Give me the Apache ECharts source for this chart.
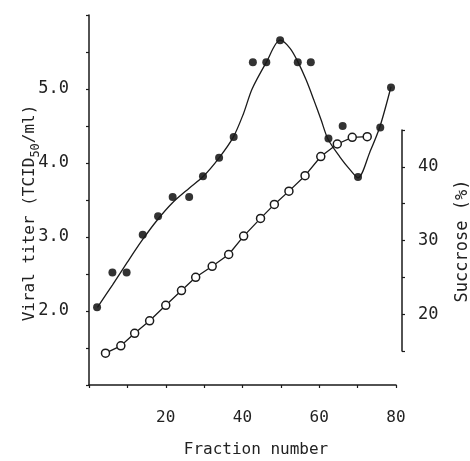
<!DOCTYPE html>
<html lang="en">
<head>
    <meta charset="UTF-8">
    <title>Viral titer and sucrose</title>
    <script src="https://cdn.jsdelivr.net/npm/echarts@6/dist/echarts.min.js"></script>
    <style>
        html, body { margin: 0; padding: 0; background: #fff; }
        #pic { width: 470px; height: 461px; }
    </style>
</head>
<body>
    <div id="pic"></div>
    <script>
        // filled dots: viral titer per fraction
        var titerFraction = [2.1, 6.1, 9.8, 14.0, 18.0, 21.8, 26.1, 29.7, 33.9, 37.7, 42.7, 46.2, 49.8, 54.4, 57.8, 62.4, 66.1, 70.1, 75.9, 78.7];
        var titerValue = [2.05, 2.52, 2.52, 3.03, 3.28, 3.54, 3.54, 3.82, 4.07, 4.35, 5.36, 5.36, 5.66, 5.36, 5.36, 4.33, 4.50, 3.81, 4.48, 5.02];

        // hand drawn smooth curve through the titer dots
        var curveFraction = [2.2, 6.1, 10.0, 13.9, 17.8, 21.7, 26.1, 29.8, 33.9, 37.6, 40.2, 42.5, 46.2, 49.8, 52.4, 54.5, 56.6, 58.6, 60.5, 62.3, 65.4, 68.0, 70.1, 73.2, 75.8, 78.7];
        var curveValue = [2.05, 2.35, 2.66, 2.96, 3.23, 3.46, 3.66, 3.82, 4.07, 4.35, 4.66, 5.00, 5.36, 5.66, 5.55, 5.36, 5.12, 4.85, 4.58, 4.32, 4.08, 3.91, 3.80, 4.15, 4.49, 5.03];

        // open circles: sucrose (%)
        var sucroseFraction = [4.3, 8.3, 11.9, 15.8, 20.0, 24.1, 27.8, 32.1, 36.4, 40.3, 44.7, 48.3, 52.1, 56.3, 60.4, 64.7, 68.6, 72.5];
        var sucroseValue = [14.7, 15.7, 17.4, 19.1, 21.2, 23.2, 25.0, 26.5, 28.1, 30.6, 33.0, 34.9, 36.7, 38.8, 41.4, 43.1, 44.0, 44.1];

        var xLabels = [20, 40, 60, 80];
        var titerLabels = [2, 3, 4, 5];
        var sucroseLabels = [20, 30, 40];

        function pairs(xs, ys) {
            return xs.map(function (x, i) { return [x, ys[i]]; });
        }

        var ink = '#1a1a1a';
        var mono = 'DejaVu Sans Mono';
        var axisLine = { show: true, onZero: false, lineStyle: { color: ink, width: 1.5 } };
        var axisTick = { show: true, length: 3, lineStyle: { color: ink, width: 1.2 } };

        var myChart = echarts.init(document.getElementById('pic'));

        var option = {
            animation: false,
            backgroundColor: '#fff',
            grid: [
                { left: 89, width: 307, top: 15, height: 370 },
                { left: 89, width: 307, top: 130, height: 221 }
            ],
            xAxis: [{
                gridIndex: 0, type: 'value', min: 0, max: 80, interval: 10,
                axisLine: axisLine,
                axisTick: axisTick,
                splitLine: { show: false },
                axisLabel: {
                    margin: 25, color: '#222', fontFamily: mono, fontSize: 16,
                    formatter: function (v) { return xLabels.indexOf(v) >= 0 ? String(v) : ''; }
                }
            }, {
                gridIndex: 1, type: 'value', min: 0, max: 80, show: false
            }],
            yAxis: [{
                gridIndex: 0, type: 'value', min: 1, max: 6, interval: 0.5,
                axisLine: axisLine,
                axisTick: axisTick,
                splitLine: { show: false },
                axisLabel: {
                    margin: 20, color: '#222', fontFamily: mono, fontSize: 17,
                    formatter: function (v) { return titerLabels.indexOf(v) >= 0 ? v.toFixed(1) : ''; }
                }
            }, {
                gridIndex: 1, type: 'value', position: 'right', offset: 6,
                min: 15, max: 45, interval: 5,
                axisLine: axisLine,
                axisTick: axisTick,
                splitLine: { show: false },
                axisLabel: {
                    margin: 16, color: '#222', fontFamily: mono, fontSize: 17,
                    formatter: function (v) { return sucroseLabels.indexOf(v) >= 0 ? String(v) : ''; }
                }
            }],
            graphic: [{
                type: 'text', x: 30, y: 213, rotation: Math.PI / 2,
                style: {
                    text: '{a|Viral titer (TCID}{s|50}{a|/ml)}',
                    align: 'center', verticalAlign: 'middle',
                    rich: {
                        a: { fontFamily: mono, fontSize: 16, fill: '#222' },
                        s: { fontFamily: mono, fontSize: 12, fill: '#222', padding: [11, 0, 0, 0] }
                    }
                }
            }, {
                type: 'text', x: 463, y: 241, rotation: Math.PI / 2,
                style: {
                    text: 'Succrose (%)', align: 'center', verticalAlign: 'middle',
                    fontFamily: mono, fontSize: 17, fill: '#222'
                }
            }, {
                type: 'text', x: 256, y: 450,
                style: {
                    text: 'Fraction number', align: 'center', verticalAlign: 'middle',
                    fontFamily: mono, fontSize: 16, fill: '#222'
                }
            }],
            series: [{
                name: 'curve', type: 'line', xAxisIndex: 0, yAxisIndex: 0,
                data: pairs(curveFraction, curveValue),
                smooth: 0.3, showSymbol: false, symbol: 'none', clip: false,
                lineStyle: { color: ink, width: 1.3 }
            }, {
                name: 'titer', type: 'scatter', xAxisIndex: 0, yAxisIndex: 0,
                data: pairs(titerFraction, titerValue),
                symbol: 'circle', symbolSize: 8, clip: false,
                itemStyle: { color: '#000' }
            }, {
                name: 'sucrose', type: 'line', xAxisIndex: 1, yAxisIndex: 1,
                data: pairs(sucroseFraction, sucroseValue),
                symbol: 'circle', symbolSize: 8, showSymbol: true, clip: false,
                lineStyle: { color: ink, width: 1.3 },
                itemStyle: { color: '#fff', borderColor: ink, borderWidth: 1.5 },
                z: 3
            }]
        };

        myChart.setOption(option);
    </script>
</body>
</html>
